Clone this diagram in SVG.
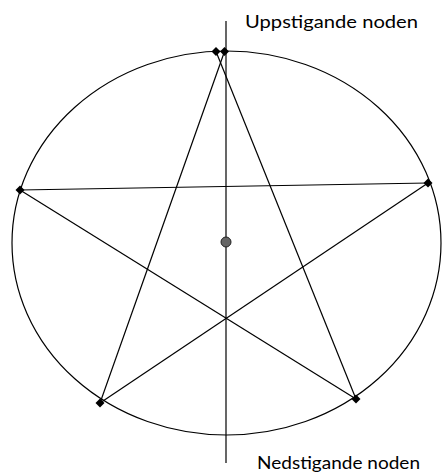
<svg xmlns="http://www.w3.org/2000/svg" width="442" height="474" viewBox="0 0 442 474">
<style>
.ln{stroke:#000;stroke-width:1.2;fill:none}
.dm{fill:#000}
.lbl{font-family:Lato,"Open Sans",sans-serif;font-size:18px;fill:#000}
</style>
<defs>
<path id="d" d="M0,-4.5 L4.5,0 L0,4.5 L-4.5,0 Z"/>
</defs>
<rect width="442" height="474" fill="#fff"/>
<g id="orbit">
<ellipse class="ln" cx="226.5" cy="243" rx="214.5" ry="192"/>
</g>
<g id="connectors">
<line class="ln" x1="226" y1="21" x2="226" y2="463"/>
<line class="ln" x1="216" y1="51.5" x2="356" y2="399"/>
<line class="ln" x1="224.5" y1="51.5" x2="100" y2="403"/>
<line class="ln" x1="20" y1="190" x2="428" y2="183"/>
<line class="ln" x1="20" y1="190" x2="356" y2="399"/>
<line class="ln" x1="428" y1="183" x2="100" y2="403"/>
</g>
<g id="points">
<use href="#d" x="216" y="51.5" class="dm"/>
<use href="#d" x="224.5" y="51.5" class="dm"/>
<use href="#d" x="20" y="190" class="dm"/>
<use href="#d" x="428" y="183" class="dm"/>
<use href="#d" x="100" y="403" class="dm"/>
<use href="#d" x="356" y="399" class="dm"/>
</g>
<g id="center">
<circle cx="226" cy="242" r="5" fill="#666" stroke="#222" stroke-width="1"/>
</g>
<g id="label-up">
<text class="lbl" x="245" y="28" textLength="173" lengthAdjust="spacingAndGlyphs">Uppstigande noden</text>
</g>
<g id="label-down">
<text class="lbl" x="257" y="469" textLength="163" lengthAdjust="spacingAndGlyphs">Nedstigande noden</text>
</g>
</svg>
